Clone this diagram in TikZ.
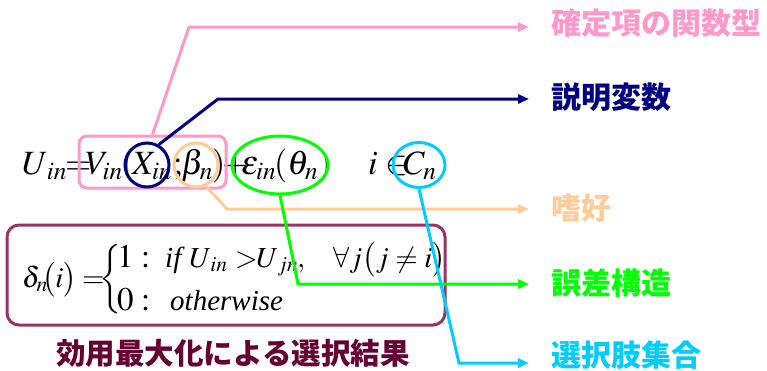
\documentclass[tikz,border=0pt]{standalone}
\usepackage{mathptmx}
\usepackage[no-math]{fontspec}
\setmainfont{Liberation Serif}
\newfontfamily\jp{Noto Sans CJK JP}
\usetikzlibrary{arrows.meta,shapes.geometric}
\definecolor{pinkc}{HTML}{FF99CC}
\definecolor{navyc}{HTML}{000080}
\definecolor{orangec}{HTML}{FFCC99}
\definecolor{greenc}{HTML}{00FF00}
\definecolor{cyanc}{HTML}{00CCFF}
\definecolor{boxc}{HTML}{993366}
\definecolor{marc}{HTML}{660033}
\begin{document}
\begin{tikzpicture}[x=1pt,y=-1pt,
  eqa/.style={font=\fontsize{34}{40}\selectfont, inner sep=0pt, anchor=base west},
  eqb/.style={font=\fontsize{29}{35}\selectfont, inner sep=0pt, anchor=base west},
  lab/.style={font=\jp\bfseries\fontsize{30}{36}\selectfont, inner sep=0pt, anchor=west},
  ring/.style={draw, line width=3pt, inner sep=0pt, fill=none},
  conn/.style={line width=3pt, -{Triangle[length=11pt,width=9pt]}}
]
\useasboundingbox (0,0) rectangle (767,370);

% row 1 equation
\node[eqa] (u) at (22,174) {$U_{\,in}$};
\node[eqa] (eqs) at (65,174) {$=$};
\node[eqa] (v) at (85,174) {$V_{in}$};
\node[eqa] (lp1) at (122,174) {$($};
\node[eqa] (x) at (132,174) {$X_{in}$};
\node[eqa] (sc) at (173,174) {$;$};
\node[eqa] (b) at (181,174) {$\beta_n$};
\node[eqa] (rp1) at (212,174) {$)$};
\node[eqa] (pl) at (222,174) {$+$};
\node[eqa] (e) at (241,174) {$\varepsilon_{in}$};
\node[eqa] (th) at (274,174) {$(\theta_n)$};
\node[eqa] (iin) at (368,174) {$i\in$};
\node[eqa] (c) at (403,174) {$C_n$};

% highlight shapes
\node[draw=pinkc, line width=3pt, rounded corners=8pt, minimum width=147pt, minimum height=52pt, inner sep=0pt] (pr) at (152.5,162) {};
\node[ring, draw=navyc, circle, minimum size=44pt] (nc) at (147,165) {};
\node[ring, draw=orangec, circle, minimum size=44pt] (oc) at (196,165) {};
\node[ring, draw=greenc, ellipse, minimum width=96pt, minimum height=58pt] (ge) at (280,165) {};
\node[ring, draw=cyanc, ellipse, minimum width=52pt, minimum height=45pt] (cc) at (419,165) {};

% box with decision rule
\node[draw=boxc, line width=3pt, rounded corners=12pt, minimum width=438pt, minimum height=100pt, inner sep=0pt] (box) at (226,275) {};
\node[eqb] (d) at (22,287) {$\delta_n$};
\node[eqb] (di) at (42,287) {$\bigl(i\bigr)$};
\node[eqb] (eq2) at (82,287) {$=$};
\node[inner sep=0pt, font=\fontsize{29}{35}\selectfont] (br) at (111,279) {$\left\{\vcenter{\hbox{\rule{0pt}{74pt}}}\right.$};
\node[eqb, font=\fontsize{33}{35}\selectfont] (one) at (117,267) {$1:$};
\node[eqb] (if) at (165,267) {\textit{if}};
\node[eqb] (ui) at (189,267) {$U_{\,in}$};
\node[eqb] (gt) at (235,267) {$>$};
\node[eqb] (uj) at (256,267) {$U_{\,jn}$};
\node[eqb] (cm) at (297,267) {$,$};
\node[eqb] (fa) at (333,267) {$\forall j\bigl(j\neq i\bigr)$};
\node[eqb, font=\fontsize{33}{35}\selectfont] (zero) at (117,310) {$0:$};
\node[eqb] (ow) at (170,310) {\textit{otherwise}};

% labels
\node[lab, text=pinkc] (l1) at (551,23) {確定項の関数型};
\node[lab, text=navyc] (l2) at (551,97) {説明変数};
\node[lab, text=orangec] (l3) at (551,208) {嗜好};
\node[lab, text=greenc] (l4) at (551,283) {誤差構造};
\node[lab, text=cyanc] (l5) at (551,355) {選択肢集合};
\node[font=\jp\bfseries\fontsize{29.5}{35}\selectfont, text=marc, inner sep=0pt] (l6) at (233,353) {効用最大化による選択結果};

% connector bends and ends
\coordinate (pkb) at (189,27);  \coordinate (pke) at (529,27);
\coordinate (nvb) at (218,99);  \coordinate (nve) at (529,99);
\coordinate (orb) at (227,209); \coordinate (ore) at (529,209);
\coordinate (grb) at (298,284); \coordinate (gre) at (529,284);
\coordinate (cyb) at (459,363); \coordinate (cye) at (529,363);

\draw[conn, draw=pinkc] (pr.north) -- (pkb) -- (pke);
\draw[conn, draw=navyc] (nc.60) -- (nvb) -- (nve);
\draw[conn, draw=orangec] (oc.-65) -- (orb) -- (ore);
\draw[conn, draw=greenc] (ge.south) -- (grb) -- (gre);
\draw[conn, draw=cyanc] (cc.south) -- (cyb) -- (cye);
\end{tikzpicture}
\end{document}
